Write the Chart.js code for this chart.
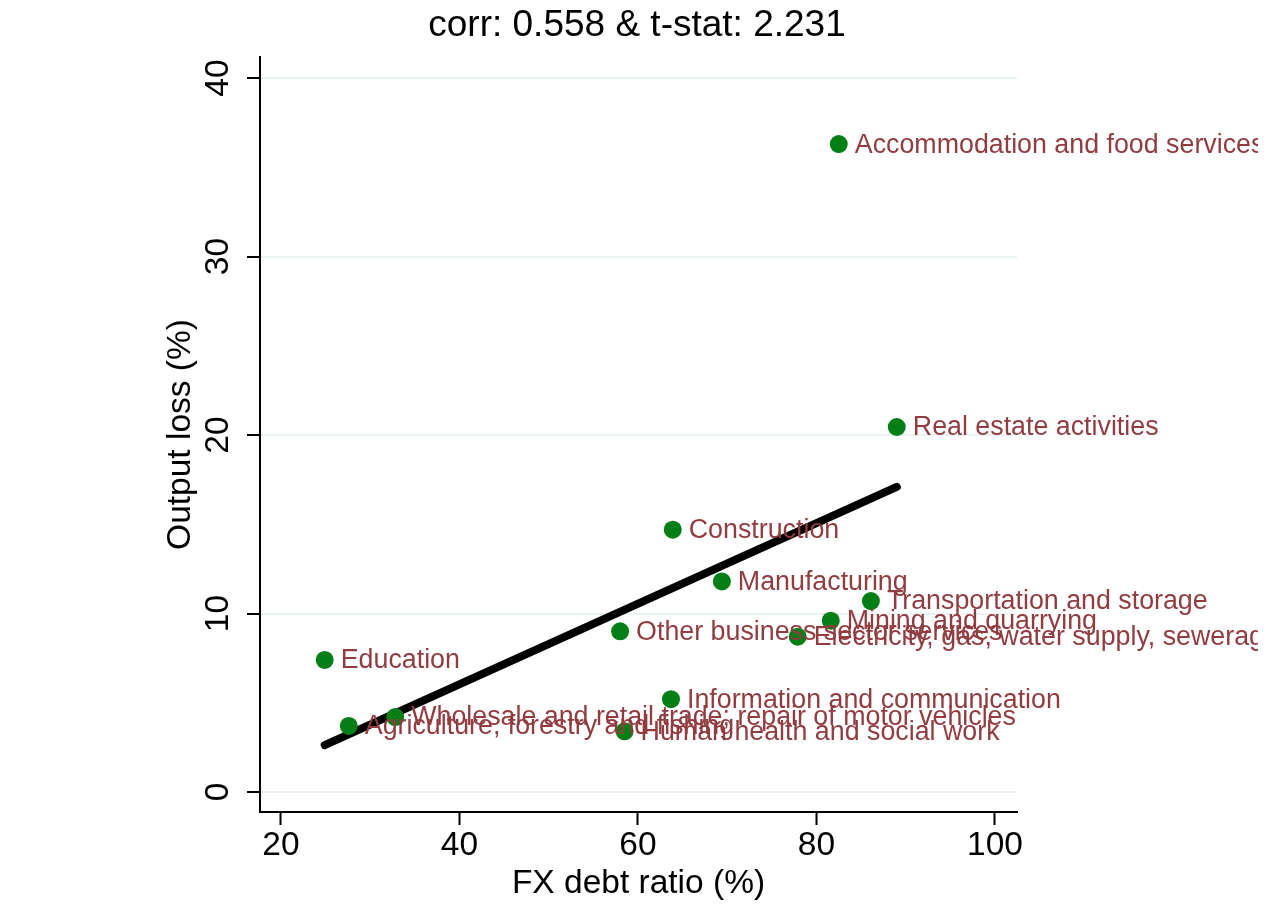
<!DOCTYPE html>
<html>
<head>
<meta charset="utf-8">
<script src="https://cdn.jsdelivr.net/npm/chart.js@4"></script>
<style>
  body { margin: 0; background: #ffffff; }
  #wrap { width: 1273px; height: 904px; }
</style>
</head>
<body>
<div id="wrap"><canvas id="chart" width="1273" height="904"></canvas></div>
<script>
// sectors
const SECTORS = [
   'Accommodation and food services',
   'Real estate activities',
   'Construction',
   'Manufacturing',
   'Transportation and storage',
   'Mining and quarrying',
   'Electricity, gas, water supply, sewerage',
   'Other business sector services',
   'Education',
   'Information and communication',
   'Wholesale and retail trade; repair of motor vehicles',
   'Agriculture, forestry and fishing',
   'Human health and social work'
];
const FX_DEBT     = [82.5, 89.0, 63.9, 69.4, 86.1, 81.6, 77.9, 58.0, 24.9, 63.7, 32.8, 27.6, 58.5];
const OUTPUT_LOSS = [36.3, 20.45, 14.7, 11.8, 10.7, 9.6, 8.7, 9.0, 7.4, 5.2, 4.2, 3.7, 3.4];

// fitted line end points
const FIT_X = [24.9, 89.0];
const FIT_Y = [2.63, 17.1];

const X_TICKS = [20, 40, 60, 80, 100];
const Y_TICKS = [0, 10, 20, 30, 40];

const TITLE = 'corr: 0.558 & t-stat: 2.231';
const FONT = 'Liberation Sans, Arial, Helvetica, sans-serif';
const LABEL_COLOR = '#923c40';
const DOT_COLOR = '#037f16';

function toPoints (xs, ys)
{
   let pts = new Array ();
   for (let n = 0; n < xs.length; n++)
      pts.push ({ x: xs [n], y: ys [n] });
   return pts;
}

// draws the sector names next to each dot, and the title over the whole page
const pointLabels = {
   id: 'pointLabels',
   afterDatasetsDraw (chart)
   {
      let ctx = chart.ctx,
          meta = chart.getDatasetMeta (1);
      ctx.save ();
      ctx.beginPath ();
      ctx.rect (0, 0, 1258, chart.height);
      ctx.clip ();
      ctx.font = '26.8px ' + FONT;
      ctx.fillStyle = LABEL_COLOR;
      ctx.textAlign = 'left';
      ctx.textBaseline = 'middle';
      meta.data.forEach ((el, i) => {
         ctx.fillText (SECTORS [i], el.x + 16, el.y + 1);
      });
      ctx.restore ();
   },
   afterDraw (chart)
   {
      let ctx = chart.ctx;
      ctx.save ();
      ctx.font = '37px ' + FONT;
      ctx.fillStyle = '#000000';
      ctx.textAlign = 'center';
      ctx.textBaseline = 'middle';
      ctx.fillText (TITLE, 637, 26);
      ctx.restore ();
   }
};

let chart = new Chart (document.getElementById ('chart'), {
   data: {
      datasets: [
         {
            type: 'line',
            data: toPoints (FIT_X, FIT_Y),
            borderColor: '#000000',
            borderWidth: 8,
            borderCapStyle: 'round',
            pointRadius: 0,
            order: 2
         },
         {
            type: 'scatter',
            data: toPoints (FX_DEBT, OUTPUT_LOSS),
            backgroundColor: DOT_COLOR,
            borderWidth: 0,
            pointRadius: 9,
            order: 1
         }
      ]
   },
   options: {
      responsive: false,
      animation: false,
      layout: { padding: { left: 0, right: 256, top: 57, bottom: 0 } },
      plugins: {
         legend: { display: false },
         tooltip: { enabled: false },
         title: { display: false }
      },
      scales: {
         x: {
            type: 'linear',
            min: 17.65,
            max: 102.47,
            afterBuildTicks: (s) => { s.ticks = X_TICKS.map (v => ({ value: v })); },
            afterFit: (s) => { s.height = 92; },
            border: { color: '#000000', width: 2 },
            grid: { display: true, drawOnChartArea: false, drawTicks: true, tickLength: 13, tickColor: '#000000', tickWidth: 2 },
            ticks: { color: '#000000', font: { family: FONT, size: 33.5 }, padding: 1, maxRotation: 0 },
            title: {
               display: true,
               text: 'FX debt ratio (%)',
               color: '#000000',
               font: { family: FONT, size: 33.5 },
               padding: { top: 0, bottom: 0 }
            }
         },
         y: {
            type: 'linear',
            min: -1.12,
            max: 41.18,
            afterBuildTicks: (s) => { s.ticks = Y_TICKS.map (v => ({ value: v })); },
            afterFit: (s) => { s.width = 260; },
            border: { color: '#000000', width: 2 },
            grid: { color: '#eaf2f3', lineWidth: 2, drawTicks: true, tickLength: 13, tickColor: '#000000', tickWidth: 2 },
            ticks: { color: '#000000', font: { family: FONT, size: 33.5 }, padding: 10, minRotation: 90, maxRotation: 90, crossAlign: 'center' },
            title: {
               display: true,
               text: 'Output loss (%)',
               color: '#000000',
               font: { family: FONT, size: 33.5 },
               padding: { top: 161, bottom: 0 }
            }
         }
      }
   },
   plugins: [pointLabels]
});
</script>
</body>
</html>
